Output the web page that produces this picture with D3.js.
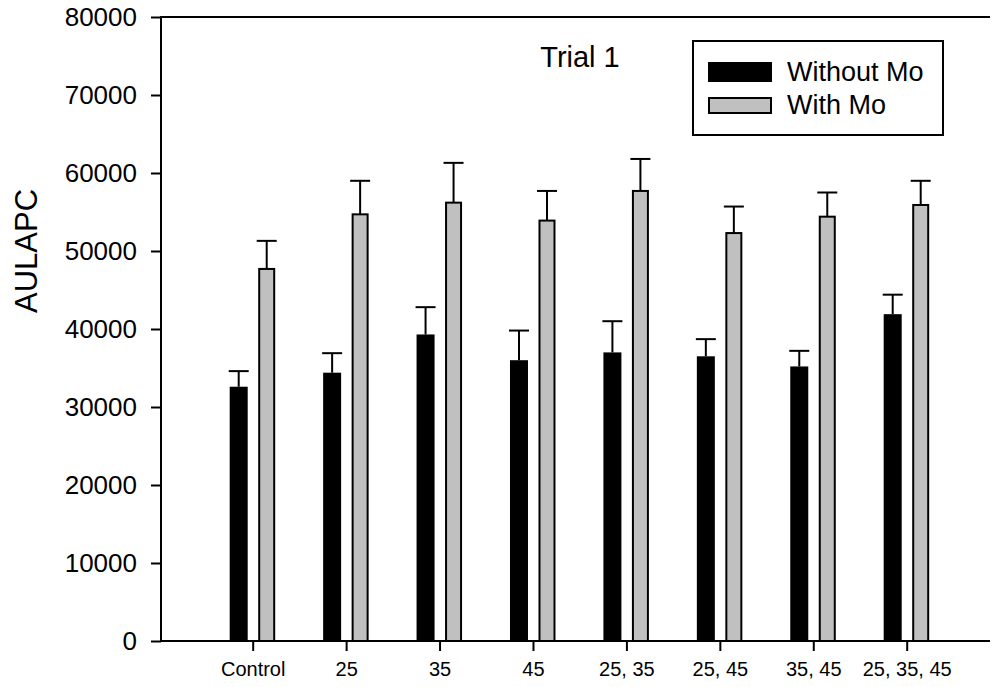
<!DOCTYPE html>
<html>
<head>
<meta charset="utf-8">
<script src="https://cdn.jsdelivr.net/npm/d3@7"></script>
<style>
body { margin: 0; background: #fff; }
text { font-family: "Liberation Sans", Arial, sans-serif; fill: #000; }
</style>
</head>
<body>
<svg id="chart" width="995" height="687"></svg>
<script>
// data
var categories = ["Control", "25", "35", "45", "25, 35", "25, 45", "35, 45", "25, 35, 45"];
var withoutMo = [32600, 34400, 39300, 36000, 37000, 36500, 35200, 41900];
var withoutMoErr = [2000, 2500, 3500, 3800, 4000, 2200, 2000, 2500];
var withMo = [47700, 54700, 56200, 53900, 57700, 52300, 54400, 55900];
var withMoErr = [3600, 4300, 5100, 3800, 4100, 3400, 3100, 3100];
var yTicks = [0, 10000, 20000, 30000, 40000, 50000, 60000, 70000, 80000];

var svg = d3.select("#chart");
var plotLeft = 161, plotRight = 990, plotTop = 17, plotBottom = 641;

var x = d3.scalePoint()
	.domain(categories)
	.range([252.7, 906.7]);
var y = d3.scaleLinear()
	.domain([0, 80000])
	.range([plotBottom, plotTop]);

// y axis
var yAxis = svg.append("g")
	.attr("transform", "translate(" + plotLeft + ",0)")
	.call(d3.axisLeft(y).tickValues(yTicks).tickSize(10).tickPadding(14).tickFormat(d3.format("d")));
yAxis.select(".domain").attr("stroke-width", 2).attr("d", "M0," + plotTop + "V" + plotBottom);
yAxis.selectAll(".tick line").attr("stroke-width", 2);
yAxis.selectAll(".tick text").style("font-size", "26px");

// x axis
var xAxis = svg.append("g")
	.attr("transform", "translate(0," + plotBottom + ")")
	.call(d3.axisBottom(x).tickSize(10).tickPadding(11));
xAxis.select(".domain").attr("stroke-width", 2).attr("d", "M" + (plotLeft - 1) + ",0H" + plotRight);
xAxis.selectAll(".tick line").attr("stroke-width", 2);
xAxis.selectAll(".tick text").style("font-size", "20px");

// top frame line
svg.append("line")
	.attr("x1", plotLeft - 1).attr("x2", plotRight)
	.attr("y1", plotTop).attr("y2", plotTop)
	.attr("stroke", "#000").attr("stroke-width", 2);

var off = 14, bw = 18, gw = 15;

// error bars first (behind bars)
function errBars(vals, errs, dx) {
	var g = svg.append("g");
	categories.forEach(function (c, i) {
		var cx = x(c) + dx;
		g.append("line")
			.attr("x1", cx).attr("x2", cx)
			.attr("y1", y(vals[i])).attr("y2", y(vals[i] + errs[i]))
			.attr("stroke", "#000").attr("stroke-width", 2);
		g.append("line")
			.attr("x1", cx - 10).attr("x2", cx + 10)
			.attr("y1", y(vals[i] + errs[i])).attr("y2", y(vals[i] + errs[i]))
			.attr("stroke", "#000").attr("stroke-width", 2);
	});
}
errBars(withoutMo, withoutMoErr, -off);
errBars(withMo, withMoErr, off);

svg.append("g").selectAll("rect")
	.data(withoutMo)
	.enter().append("rect")
	.attr("x", function (d, i) { return x(categories[i]) - off - bw / 2; })
	.attr("y", function (d) { return y(d); })
	.attr("width", bw)
	.attr("height", function (d) { return plotBottom - y(d); })
	.attr("fill", "#000");

svg.append("g").selectAll("rect")
	.data(withMo)
	.enter().append("rect")
	.attr("x", function (d, i) { return x(categories[i]) + off - gw / 2; })
	.attr("y", function (d) { return y(d); })
	.attr("width", gw)
	.attr("height", function (d) { return plotBottom - y(d); })
	.attr("fill", "#c0c0c0")
	.attr("stroke", "#000")
	.attr("stroke-width", 2);

// axis title
svg.append("text")
	.attr("transform", "translate(37,251) rotate(-90)")
	.attr("text-anchor", "middle")
	.style("font-size", "31px")
	.text("AULAPC");

svg.append("text")
	.attr("x", 580).attr("y", 67)
	.attr("text-anchor", "middle")
	.style("font-size", "29px")
	.text("Trial 1");

// legend
var lg = svg.append("g");
lg.append("rect")
	.attr("x", 693).attr("y", 41).attr("width", 250).attr("height", 94)
	.attr("fill", "none").attr("stroke", "#000").attr("stroke-width", 2);
lg.append("rect")
	.attr("x", 708).attr("y", 62).attr("width", 64).attr("height", 20)
	.attr("fill", "#000");
lg.append("rect")
	.attr("x", 709).attr("y", 98).attr("width", 62).attr("height", 15)
	.attr("fill", "#c0c0c0").attr("stroke", "#000").attr("stroke-width", 2);
lg.append("text").attr("x", 787).attr("y", 81).style("font-size", "27px").text("Without Mo");
lg.append("text").attr("x", 787).attr("y", 114).style("font-size", "27px").text("With Mo");
</script>
</body>
</html>
